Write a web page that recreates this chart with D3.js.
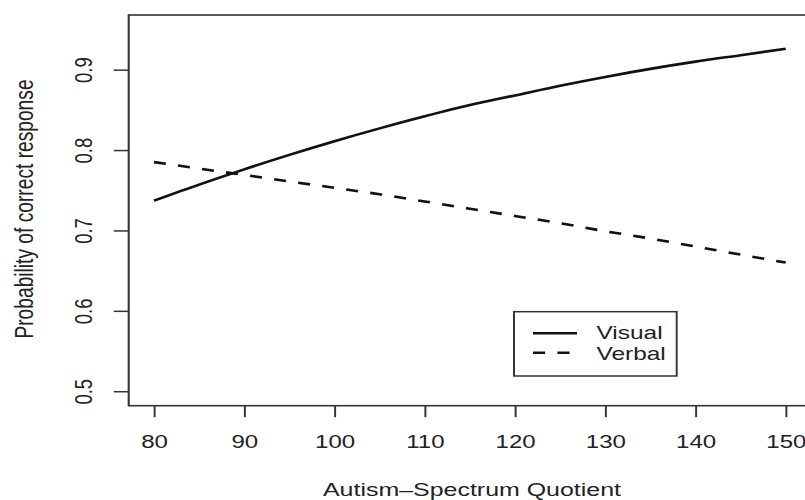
<!DOCTYPE html>
<html>
<head>
<meta charset="utf-8">
<script src="https://cdn.jsdelivr.net/npm/d3@7"></script>
<style>
  html, body { margin: 0; padding: 0; background: #fff; }
  svg { display: block; }
  text { font-family: "Liberation Sans", Arial, Helvetica, sans-serif; fill: #222; }
</style>
</head>
<body>
<div id="chart"></div>
<script>
// data
const aq = [80, 85, 90, 95, 100, 105, 110, 115, 120, 125, 130, 135, 140, 145, 150];
const visual = [0.737, 0.757, 0.776, 0.794, 0.811, 0.827, 0.842, 0.856, 0.868, 0.880, 0.891, 0.901, 0.910, 0.918, 0.926];
const verbal = [0.785, 0.777, 0.769, 0.761, 0.753, 0.745, 0.736, 0.727, 0.718, 0.709, 0.699, 0.690, 0.680, 0.670, 0.660];
const xTicks = [80, 90, 100, 110, 120, 130, 140, 150];
const yTicks = [0.5, 0.6, 0.7, 0.8, 0.9];
const seriesNames = ["Visual", "Verbal"];

// the picture is stretched sideways, so draw in a narrower box and stretch it
const SX = 1.3;
const W = 805, H = 500;
const VW = W / SX;
const fs = 18.5;      // tick labels
const fsTitle = 19.2; // axis titles
const fsLegend = 18.8;

const plot = {left: 128.7 / SX, right: 811 / SX, top: 15, bottom: 405.7};

const svg = d3.select("#chart").append("svg")
    .attr("width", W).attr("height", H)
    .attr("viewBox", `0 0 ${VW} ${H}`)
    .attr("preserveAspectRatio", "none");

svg.append("rect").attr("width", VW).attr("height", H).attr("fill", "#fff");

// scales (R style 4% padding round xlim 80-150, ylim 0.5-0.95)
const x = d3.scaleLinear().domain([77.2, 152.8]).range([plot.left, plot.right]);
const y = d3.scaleLinear().domain([0.482, 0.968]).range([plot.bottom, plot.top]);

// box
svg.append("rect")
    .attr("x", plot.left).attr("y", plot.top)
    .attr("width", plot.right - plot.left).attr("height", plot.bottom - plot.top)
    .attr("fill", "none").attr("stroke", "#333").attr("stroke-width", 1.6);

// axes
const xAxisG = svg.append("g")
    .attr("transform", `translate(0,${plot.bottom})`)
    .call(d3.axisBottom(x).tickValues(xTicks).tickSize(11.5).tickPadding(0).tickFormat(d3.format("d")));
xAxisG.select(".domain").remove();
xAxisG.selectAll("line").attr("stroke", "#333").attr("stroke-width", 1.5);
xAxisG.selectAll("text")
    .attr("y", 448.3 - plot.bottom).attr("dy", null)
    .style("font-size", fs + "px").attr("fill", "#222");

const yAxisG = svg.append("g")
    .attr("transform", `translate(${plot.left},0)`)
    .call(d3.axisLeft(y).tickValues(yTicks).tickSize(11.5).tickFormat(d3.format(".1f")));
yAxisG.select(".domain").remove();
yAxisG.selectAll("line").attr("stroke", "#333").attr("stroke-width", 1.5);
yAxisG.selectAll("text")
    .attr("x", null).attr("dy", null)
    .attr("text-anchor", "middle")
    .attr("transform", `translate(${92 / SX - plot.left},0) rotate(-90)`)
    .style("font-size", fs + "px").attr("fill", "#222");

// titles
svg.append("text")
    .attr("x", 472 / SX).attr("y", 496)
    .attr("text-anchor", "middle")
    .style("font-size", fsTitle + "px")
    .text("Autism\u2013Spectrum Quotient");

svg.append("text")
    .attr("transform", `translate(${33 / SX},209) rotate(-90)`)
    .attr("text-anchor", "middle")
    .style("font-size", fsTitle + "px")
    .text("Probability of correct response");

// curves
const line = d3.line()
    .x((d, i) => x(aq[i]))
    .y(d => y(d))
    .curve(d3.curveMonotoneX);

svg.append("path").datum(visual)
    .attr("d", line)
    .attr("fill", "none").attr("stroke", "#111").attr("stroke-width", 2.6);

svg.append("path").datum(verbal)
    .attr("d", line)
    .attr("fill", "none").attr("stroke", "#111").attr("stroke-width", 2.6)
    .attr("stroke-dasharray", "9.3,9.5");

// legend
const lg = svg.append("g");
lg.append("rect")
    .attr("x", 514 / SX).attr("y", 311.7)
    .attr("width", (676.7 - 514) / SX).attr("height", 376 - 311.7)
    .attr("fill", "#fff").attr("stroke", "#333").attr("stroke-width", 1.5);

const legendRows = [
    {name: seriesNames[0], dash: null, ly: 333.3, ty: 339.5},
    {name: seriesNames[1], dash: "9.3,9.5", ly: 352.7, ty: 360.5}
];
legendRows.forEach(r => {
    lg.append("line")
        .attr("x1", 533 / SX).attr("x2", 577 / SX)
        .attr("y1", r.ly).attr("y2", r.ly)
        .attr("stroke", "#111").attr("stroke-width", 2.6)
        .attr("stroke-dasharray", r.dash);
    lg.append("text")
        .attr("x", 596.5 / SX).attr("y", r.ty)
        .style("font-size", fsLegend + "px")
        .text(r.name);
});
</script>
</body>
</html>
